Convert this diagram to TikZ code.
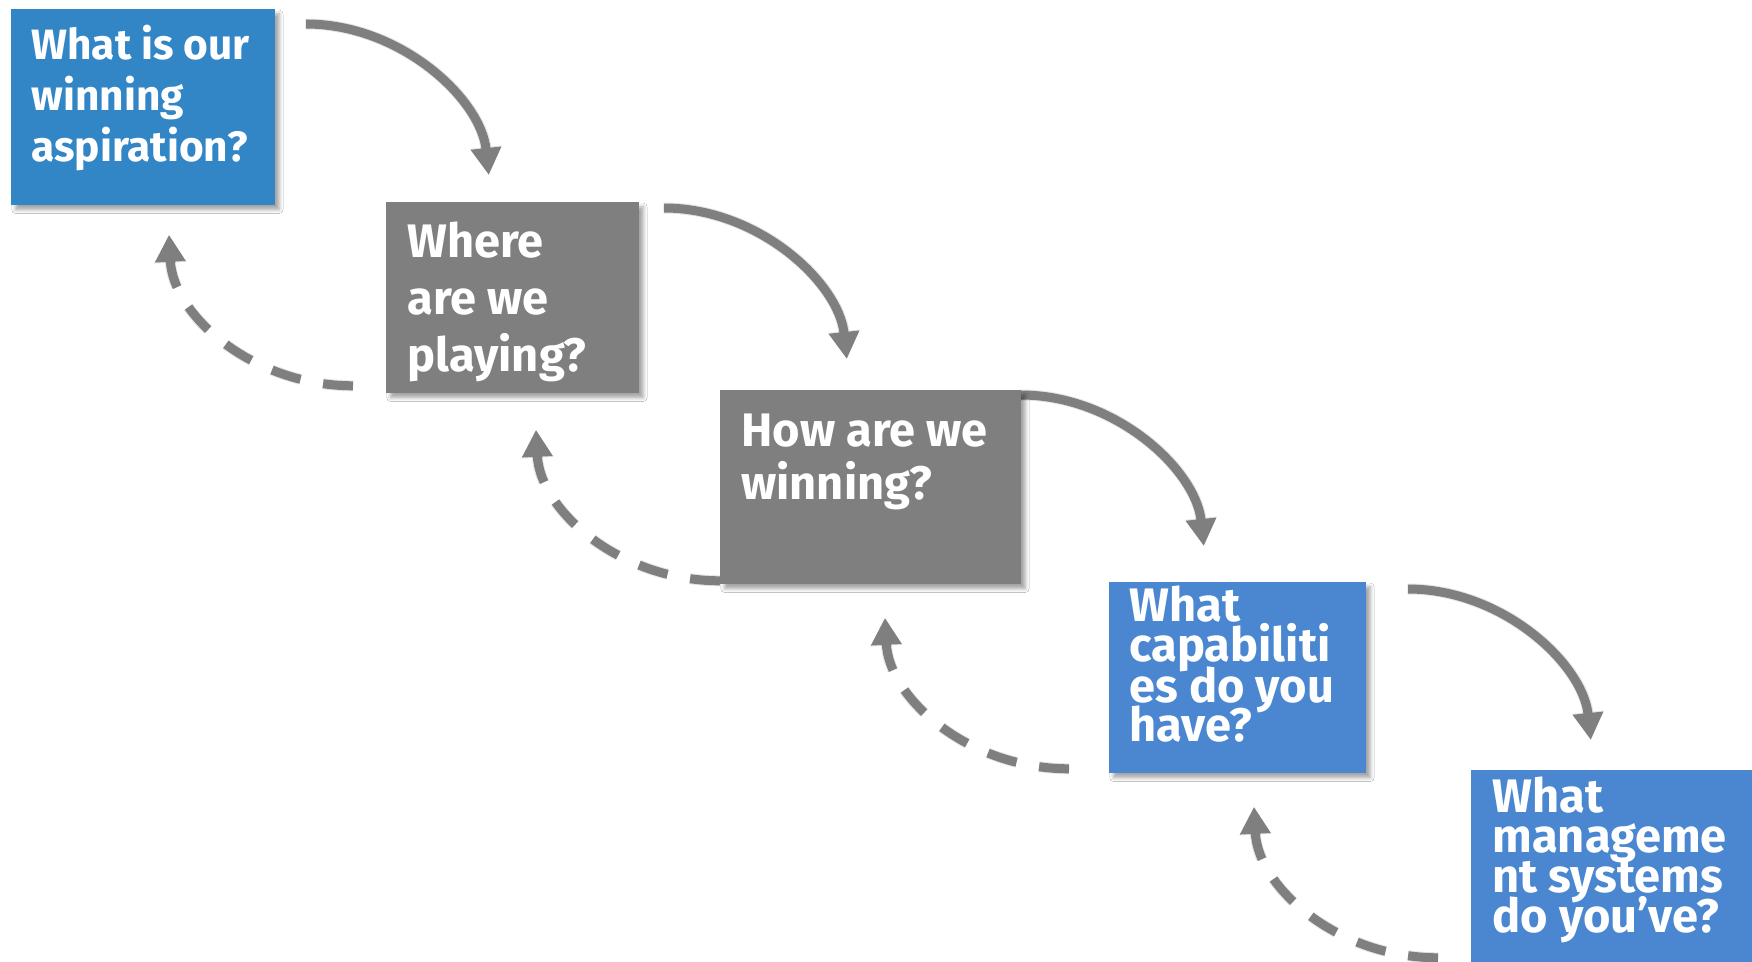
\documentclass[tikz,border=0pt]{standalone}
\usepackage{fontspec}
\setmainfont{Fira Sans}
\usetikzlibrary{arrows.meta,calc,shadows.blur}
\definecolor{blueA}{HTML}{3286C6}
\definecolor{blueB}{HTML}{4A87D0}
\definecolor{grayBox}{HTML}{7F7F7F}
\definecolor{arrowGray}{HTML}{7F7F7F}
\pgfdeclarelayer{bg}
\pgfsetlayers{bg,main}
\newcommand\qlines[1]{\vtop{\lineskiplimit=-1000pt\lineskip=0pt\halign{##\hfil\cr#1\crcr}}}
\newcommand\fA{\fontsize{21.2pt}{25.5pt}\selectfont\bfseries}
\newcommand\fB{\fontsize{23.5pt}{28.5pt}\selectfont\bfseries}
\newcommand\fC{\fontsize{23.5pt}{26.5pt}\selectfont\bfseries}
\newcommand\fD{\fontsize{23.5pt}{20pt}\selectfont\bfseries}
\tikzset{
  bx/.style={rectangle, inner sep=0pt, anchor=north west,
    blur shadow={shadow xshift=2pt, shadow yshift=-2.2pt, shadow blur radius=1.8pt, shadow opacity=35}},
  txt/.style={anchor=base west, inner sep=0pt, text=white},
  fwd/.style={draw=arrowGray, line width=4.5pt, -{Triangle[width=14.5pt,length=13.5pt]}},
  back/.style={fwd, dash pattern=on 15pt off 11.5pt},
  shd/.style={draw=black, draw opacity=0.10, fill opacity=0.10, line width=5.5pt, -{Triangle[width=15pt,length=14pt]}},
  shdback/.style={shd, dash pattern=on 15pt off 11.5pt}
}
\begin{document}
\begin{tikzpicture}[x=0.5pt,y=-0.5pt]
\useasboundingbox (0,0) rectangle (1752,962);
% boxes
\node[bx, fill=blueA, minimum width=132pt, minimum height=98pt] (b1) at (11,9) {};
\node[bx, fill=grayBox, minimum width=126.5pt, minimum height=95.5pt] (b2) at (386,202) {};
\node[bx, fill=grayBox, minimum width=150.5pt, minimum height=97pt] (b3) at (720,390) {};
\node[bx, fill=blueB, minimum width=128.5pt, minimum height=95.5pt] (b4) at (1109,582) {};
\node[bx, fill=blueB, minimum width=140.5pt, minimum height=96pt] (b5) at (1471,770) {};
% texts
\node[txt, font=\fA] (t1) at (31,60) {\qlines{What is our\cr winning\cr aspiration?}};
\node[txt, font=\fB] (t2) at (407,258) {\qlines{Where\cr are we\cr playing?}};
\node[txt, font=\fC] (t3) at (741,447) {\qlines{How are we\cr winning?}};
\node[txt, font=\fD] (t4) at (1129,622) {\qlines{What\cr capabiliti\cr es do you\cr have?}};
\node[txt, font=\fD] (t5) at (1492,812) {\qlines{What\cr manageme\cr nt systems\cr do you’ve?}};
% connector end points
\coordinate (s1) at ($(b1.north east)+(30,15)$);
\coordinate (s2) at ($(b2.north east)+(24,6)$);
\coordinate (s3) at ($(b3.north east)+(-1,5)$);
\coordinate (s4) at ($(b4.north east)+(41,7)$);
\coordinate (e1) at ($(s1)+(183,151)$);
\coordinate (e2) at ($(s2)+(183,151)$);
\coordinate (e3) at ($(s3)+(183,151)$);
\coordinate (e4) at ($(s4)+(183,151)$);
\coordinate (d1) at ($(b2.south west)+(-33,-8)$);
\coordinate (d2) at ($(b3.south west)+(0,-4)$);
\coordinate (d3) at ($(b4.south west)+(-40,-5)$);
\coordinate (d4) at ($(b5.south west)+(-33,-5)$);
\coordinate (u1) at ($(d1)+(-184,-151)$);
\coordinate (u2) at ($(d2)+(-184,-151)$);
\coordinate (u3) at ($(d3)+(-184,-151)$);
\coordinate (u4) at ($(d4)+(-184,-151)$);
\begin{pgfonlayer}{bg}
\fill[white] (0,0) rectangle (1752,962);
\foreach \i in {1,2,3,4}{
  \begin{scope}[shift={(3,5)}]
    \draw[shd] (s\i) .. controls ($(s\i)+(95,0)$) and ($(s\i)+(175,75)$) .. (e\i);
    \draw[shdback] (d\i) .. controls ($(d\i)+(-100,0)$) and ($(d\i)+(-180,-70)$) .. (u\i);
  \end{scope}
  \draw[fwd] (s\i) .. controls ($(s\i)+(95,0)$) and ($(s\i)+(175,75)$) .. (e\i);
  \draw[back] (d\i) .. controls ($(d\i)+(-100,0)$) and ($(d\i)+(-180,-70)$) .. (u\i);
}
\end{pgfonlayer}
\end{tikzpicture}
\end{document}
